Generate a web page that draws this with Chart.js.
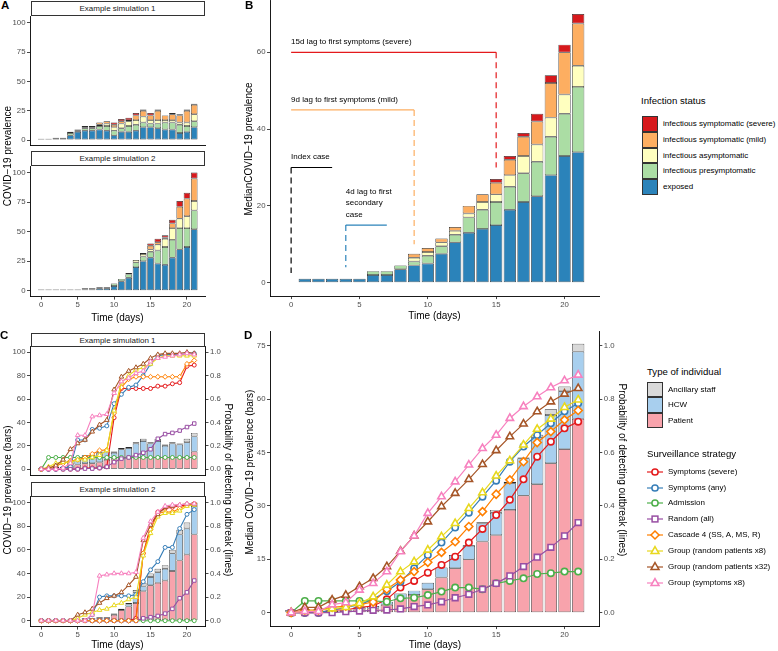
<!DOCTYPE html>
<html>
<head>
<meta charset="utf-8">
<script src="https://cdn.jsdelivr.net/npm/chart.js@4.4.1/dist/chart.umd.min.js"></script>
<style>
  body { margin: 0; width: 778px; height: 651px; background: #fff; position: relative; overflow: hidden;
         font-family: 'Liberation Sans', Arial, sans-serif; color: #000; }
  canvas { position: absolute; }
  .t { position: absolute; white-space: nowrap; line-height: 1; }
  .c { transform: translate(-50%, -50%); }
  .up { transform: translate(-50%, -50%) rotate(-90deg); }
  .down { transform: translate(-50%, -50%) rotate(90deg); }
  .title { font-size: 10px; }
  .letter { font-size: 11.5px; font-weight: bold; }
  .strip { position: absolute; box-sizing: border-box; border: 0.8px solid #333; background: #fff;
           font-size: 8px; font-weight: 400; color: #1a1a1a; text-align: center; }
  .key { position: absolute; box-sizing: border-box; border: 0.7px solid #333; }
  .lab { position: absolute; font-size: 8px; white-space: nowrap; transform: translateY(-50%); line-height: 1; }
  .ltitle { position: absolute; font-size: 9.6px; white-space: nowrap; transform: translateY(-50%); line-height: 1; }
  svg { position: absolute; }
</style>
</head>
<body>

<canvas id="a1"></canvas>
<canvas id="a2"></canvas>
<canvas id="b"></canvas>
<canvas id="c1"></canvas>
<canvas id="c2"></canvas>
<canvas id="d"></canvas>

<div class="t letter" style="left:1px;top:0px">A</div>
<div class="t letter" style="left:245px;top:0px">B</div>
<div class="t letter" style="left:0px;top:330px">C</div>
<div class="t letter" style="left:244px;top:330px">D</div>

<div class="strip" style="left:30.5px;top:1px;width:174px;height:14.5px;line-height:13px">Example simulation 1</div>
<div class="strip" style="left:30.5px;top:151px;width:174px;height:14.5px;line-height:13px">Example simulation 2</div>
<div class="strip" style="left:30.5px;top:332.5px;width:174px;height:14.5px;line-height:13px">Example simulation 1</div>
<div class="strip" style="left:30.5px;top:482px;width:174px;height:14.5px;line-height:13px">Example simulation 2</div>

<div class="t title up" style="left:8px;top:156px">COVID−19 prevalence</div>
<div class="t title c" style="left:117.5px;top:318px">Time (days)</div>
<div class="t title up" style="left:249px;top:148.5px">MedianCOVID−19 prevalence</div>
<div class="t title c" style="left:434.5px;top:316px">Time (days)</div>
<div class="t title up" style="left:8px;top:490px">COVID−19 prevalence (bars)</div>
<div class="t title down" style="left:228px;top:490px">Probability of detecting outbreak (lines)</div>
<div class="t title c" style="left:117.5px;top:645px">Time (days)</div>
<div class="t title up" style="left:250px;top:472px">Median COVID−19 prevalence (bars)</div>
<div class="t title down" style="left:621.5px;top:470px">Probability of detecting outbreak (lines)</div>
<div class="t title c" style="left:435px;top:645px">Time (days)</div>

<div id="legends"></div>

<script>
// days on the x axis and the axis tick values
const days = [0, 1, 2, 3, 4, 5, 6, 7, 8, 9, 10, 11, 12, 13, 14, 15, 16, 17, 18, 19, 20, 21];
const dayTicks = [0, 5, 10, 15, 20];
const countTicks = [0, 25, 50, 75, 100];
const medianTicks = [0, 20, 40, 60];
const prevTicks = [0, 20, 40, 60, 80, 100];
const dMedianTicks = [0, 15, 30, 45, 60, 75];
const probTicks = [0, 0.2, 0.4, 0.6, 0.8, 1.0];

// infection status (bottom of the stack first)
const statusNames = ["exposed", "infectious presymptomatic", "infectious asymptomatic",
  "infectious symptomatic (mild)", "infectious symptomatic (severe)"];
const statusColors = ["#2B83BA", "#ABDDA4", "#FFFFBF", "#FDAE61", "#D7191C"];

// panel A, example simulation 1
const exp1 = [1, 1, 1, 1, 4, 7, 8, 8, 9, 8, 4, 7, 7, 8, 11, 11, 10, 9, 9, 6, 7, 11];
const pre1 = [0, 0, 1, 1, 2, 1, 2, 2, 3, 4, 4, 3, 5, 5, 4, 3, 4, 6, 6, 7, 5, 5];
const asy1 = [0, 0, 0, 0, 1, 1, 1, 1, 1, 2, 3, 4, 4, 4, 5, 3, 3, 2, 2, 2, 3, 6];
const mil1 = [0, 0, 0, 0, 0, 0, 1, 1, 2, 2, 2, 2, 1, 4, 5, 4, 8, 4, 5, 6, 10, 8];
const sev1 = [0, 0, 0, 0, 0, 0, 0, 0, 0, 0, 2, 2, 2, 2, 1, 2, 1, 0, 1, 1, 1, 1];

// panel A, example simulation 2
const exp2 = [1, 1, 1, 1, 1, 1, 1, 1, 2, 2, 4, 8, 11, 20, 25, 28, 23, 22, 28, 35, 37, 52];
const pre2 = [0, 0, 0, 0, 0, 0, 1, 1, 1, 1, 2, 2, 3, 4, 4, 5, 11, 15, 15, 18, 16, 16];
const asy2 = [0, 0, 0, 0, 0, 0, 0, 0, 0, 0, 0, 0, 1, 2, 2, 2, 5, 7, 10, 8, 10, 8];
const mil2 = [0, 0, 0, 0, 0, 0, 0, 0, 0, 0, 0, 0, 0, 0, 1, 3, 2, 1, 4, 10, 15, 19];
const sev2 = [0, 0, 0, 0, 0, 0, 0, 0, 0, 0, 0, 0, 0, 0, 0, 2, 3, 2, 3, 5, 5, 5];

// panel B, medians
const bExp = [0, 1, 1, 1, 1, 1, 2, 2, 3.5, 4.5, 5, 7.5, 10.5, 13, 14, 15, 19, 21, 22.5, 28, 33, 34];
const bPre = [0, 0, 0, 0, 0, 0, 1, 1, 1, 1, 2, 2, 2, 4, 5, 6, 6, 7.5, 9, 10, 11, 17];
const bAsy = [0, 0, 0, 0, 0, 0, 0, 0, 0, 1, 1, 1, 1, 1, 2, 2, 3, 4.5, 4.5, 5, 5, 5.5];
const bMil = [0, 0, 0, 0, 0, 0, 0, 0, 0, 1, 1, 1, 1, 2, 2, 3, 4, 5, 6, 9, 11, 11];
const bSev = [0, 0, 0, 0, 0, 0, 0, 0, 0, 0, 0, 0, 0, 0, 0, 1, 1, 1, 2, 2, 2, 2.5];

// panel B lag annotations
const lagLabels = [["Index case"], ["4d lag to first", "secondary", "case"],
  ["9d lag to first symptoms (mild)"], ["15d lag to first symptoms (severe)"]];
const lagFrom = [0, 4, 0, 0];
const lagTo = [3, 7, 9, 15];
const lagLevel = [30, 15, 45, 60];
const lagDropAt = [0, 4, 9, 15];
const lagDropTo = [2.5, 4, 10, 30];
const lagColors = ["#000000", "#2B83BA", "#FDAE61", "#E41A1C"];

// type of individual (bottom of the stack first)
const typeNames = ["Patient", "HCW", "Ancillary staff"];
const typeColors = ["#F8A3AC", "#A8CFEE", "#D9D9D9"];

// panel C bars
const cPat1 = [1, 1, 1, 1, 3, 4, 5, 5, 6, 8, 9, 10, 10, 10, 10, 10, 10, 10, 10, 10, 10, 15];
const cHcw1 = [0, 0, 1, 1, 3, 4, 6, 6, 8, 7, 5, 7, 8, 12, 14, 12, 14, 10, 12, 11, 13, 13];
const cAnc1 = [0, 0, 0, 0, 1, 1, 1, 1, 1, 1, 1, 1, 1, 1, 2, 1, 2, 1, 1, 1, 3, 3];
const cPat2 = [1, 1, 1, 1, 1, 1, 1, 1, 1, 1, 5, 9, 12, 15, 25, 30, 32, 34, 42, 51, 56, 73];
const cHcw2 = [0, 0, 0, 0, 0, 0, 1, 1, 1, 1, 1, 1, 2, 9, 4, 7, 9, 10, 15, 22, 22, 24];
const cAnc2 = [0, 0, 0, 0, 0, 0, 0, 0, 1, 1, 0, 0, 1, 2, 3, 3, 3, 3, 3, 4, 5, 3];

// panel D bars (medians)
const dPat = [0.3, 0.3, 0.5, 0.5, 0.6, 1, 1.2, 2.2, 4, 5, 6.6, 9.9, 12.5, 15, 20, 21.8, 28.9, 32.9, 36.1, 42, 46, 54.5];
const dHcw = [0.4, 0, 0, 0.1, 0.2, 0.5, 0.7, 0.9, 1.4, 1.2, 1.8, 2.8, 3.7, 3.8, 5.1, 6.3, 7.5, 10.5, 13.2, 13.6, 16.3, 18.9];
const dAnc = [0, 0, 0, 0, 0, 0, 0, 0, 0, 0, 0, 0, 0, 0.2, 0.3, 0.8, 0.4, 0.2, 0.7, 1.6, 1.3, 2.2];

// surveillance strategies
const stratNames = ["Symptoms (severe)", "Symptoms (any)", "Admission", "Random (all)",
  "Cascade 4 (SS, A, MS, R)", "Group (random patients x8)", "Group (random patients x32)", "Group (symptoms x8)"];
const stratColors = ["#E41A1C", "#377EB8", "#4DAF4A", "#984EA3", "#FF7F00", "#E8D81E", "#A65628", "#F781BF"];
const stratShapes = ["circle", "circle", "circle", "rect", "rectRot", "triangle", "triangle", "triangle"];

// probability of detecting the outbreak, simulation 1 (panel C top)
const c1Lines = [
  [0, 0, 0, 0, 0, 0, 0.01, 0.01, 0.01, 0.02, 0.44, 0.69, 0.69, 0.69, 0.69, 0.69, 0.71, 0.71, 0.73, 0.74, 0.88, 0.89],
  [0, 0, 0, 0.01, 0.02, 0.25, 0.25, 0.34, 0.35, 0.37, 0.56, 0.64, 0.70, 0.72, 0.80, 0.90, 0.97, 0.98, 0.98, 0.98, 0.99, 0.99],
  [0, 0.1, 0.1, 0.1, 0.1, 0.1, 0.1, 0.1, 0.1, 0.1, 0.1, 0.1, 0.1, 0.1, 0.1, 0.1, 0.1, 0.1, 0.1, 0.1, 0.1, 0.1],
  [0, 0, 0, 0, 0, 0, 0.005, 0.005, 0.01, 0.02, 0.06, 0.09, 0.1, 0.12, 0.14, 0.17, 0.26, 0.3, 0.31, 0.33, 0.36, 0.39],
  [0, 0.005, 0.03, 0.05, 0.07, 0.08, 0.1, 0.13, 0.16, 0.165, 0.48, 0.70, 0.77, 0.79, 0.79, 0.79, 0.79, 0.79, 0.79, 0.79, 0.90, 0.93],
  [0, 0.02, 0.05, 0.06, 0.06, 0.08, 0.08, 0.1, 0.12, 0.16, 0.5, 0.74, 0.8, 0.85, 0.87, 0.9, 0.95, 0.97, 0.97, 0.97, 0.97, 0.97],
  [0, 0.01, 0.03, 0.08, 0.17, 0.22, 0.25, 0.32, 0.38, 0.42, 0.68, 0.79, 0.84, 0.87, 0.9, 0.95, 0.98, 0.99, 0.99, 0.99, 1.0, 0.99],
  [0, 0, 0, 0.01, 0.05, 0.29, 0.29, 0.45, 0.46, 0.47, 0.65, 0.75, 0.78, 0.82, 0.84, 0.92, 0.95, 0.96, 0.97, 0.98, 0.99, 0.98]
];

// simulation 2 (panel C bottom)
const c2Lines = [
  [0, 0, 0, 0, 0, 0, 0, 0, 0, 0, 0, 0, 0, 0.02, 0.57, 0.8, 0.92, 0.95, 0.96, 0.97, 0.98, 0.99],
  [0, 0, 0, 0, 0, 0, 0, 0.05, 0.2, 0.21, 0.21, 0.21, 0.21, 0.22, 0.33, 0.43, 0.5, 0.62, 0.62, 0.78, 0.9, 0.94],
  [0, 0, 0, 0, 0, 0, 0, 0, 0, 0, 0, 0, 0, 0, 0, 0, 0, 0, 0, 0, 0, 0],
  [0, 0, 0, 0, 0, 0, 0, 0, 0, 0, 0, 0, 0, 0, 0.02, 0.03, 0.04, 0.06, 0.1, 0.19, 0.24, 0.34],
  [0, 0, 0, 0, 0, 0, 0, 0, 0, 0, 0, 0, 0, 0, 0.57, 0.77, 0.91, 0.92, 0.92, 0.95, 0.98, 0.99],
  [0, 0, 0, 0, 0, 0.02, 0.05, 0.07, 0.09, 0.1, 0.13, 0.15, 0.18, 0.2, 0.55, 0.74, 0.88, 0.91, 0.91, 0.93, 0.97, 0.98],
  [0, 0, 0, 0, 0, 0.05, 0.07, 0.1, 0.15, 0.19, 0.21, 0.24, 0.3, 0.37, 0.68, 0.81, 0.9, 0.96, 0.97, 0.98, 0.99, 0.99],
  [0, 0, 0, 0, 0, 0, 0, 0.05, 0.38, 0.39, 0.4, 0.4, 0.4, 0.41, 0.7, 0.84, 0.92, 0.97, 0.98, 0.98, 0.99, 0.99]
];

// medians across simulations (panel D)
const dLines = [
  [0, 0, 0, 0.01, 0.01, 0.02, 0.025, 0.05, 0.094, 0.119, 0.15, 0.179, 0.21, 0.263, 0.314, 0.366, 0.423, 0.5, 0.585, 0.641, 0.691, 0.716],
  [0, 0, 0, 0.01, 0.02, 0.03, 0.05, 0.08, 0.116, 0.166, 0.216, 0.263, 0.319, 0.375, 0.435, 0.495, 0.566, 0.623, 0.666, 0.71, 0.755, 0.785],
  [0, 0.044, 0.044, 0.044, 0.044, 0.044, 0.044, 0.041, 0.054, 0.056, 0.066, 0.079, 0.094, 0.094, 0.088, 0.11, 0.119, 0.129, 0.145, 0.148, 0.154, 0.154],
  [0, 0, 0, 0, 0.004, 0.006, 0.009, 0.01, 0.014, 0.023, 0.029, 0.041, 0.056, 0.069, 0.088, 0.11, 0.138, 0.173, 0.208, 0.245, 0.288, 0.338],
  [0, 0.01, 0.01, 0.02, 0.025, 0.03, 0.04, 0.088, 0.123, 0.154, 0.189, 0.226, 0.266, 0.323, 0.379, 0.444, 0.498, 0.566, 0.638, 0.679, 0.723, 0.758],
  [0, 0.005, 0.01, 0.015, 0.02, 0.035, 0.06, 0.104, 0.154, 0.191, 0.235, 0.285, 0.335, 0.391, 0.45, 0.513, 0.57, 0.629, 0.688, 0.726, 0.77, 0.798],
  [0, 0.02, 0.02, 0.048, 0.066, 0.098, 0.129, 0.173, 0.231, 0.288, 0.341, 0.398, 0.448, 0.5, 0.556, 0.608, 0.66, 0.708, 0.754, 0.791, 0.82, 0.841],
  [0, 0.005, 0.005, 0.03, 0.038, 0.085, 0.11, 0.154, 0.229, 0.288, 0.373, 0.435, 0.491, 0.554, 0.616, 0.666, 0.729, 0.773, 0.81, 0.844, 0.87, 0.891]
];

Chart.defaults.font.family = "'Liberation Sans', Arial, sans-serif";
Chart.defaults.font.size = 7.8;
Chart.defaults.color = "#4d4d4d";

// x range like ggplot: bars of width 0.9 plus 5% expansion
const span = days[days.length - 1] - days[0] + 0.9;
const xMin = days[0] - 0.45 - 0.05 * span;
const xMax = days[days.length - 1] + 0.45 + 0.05 * span;

function place(id, cv) {
  const c = document.getElementById(id);
  c.width = cv[2];
  c.height = cv[3];
  c.style.left = cv[0] + "px";
  c.style.top = cv[1] + "px";
  c.style.width = cv[2] + "px";
  c.style.height = cv[3] + "px";
  return c.getContext("2d");
}

// fix the room an axis takes, so the plot area lands where we want it
function fixSize(size) {
  return function (s) {
    if (s.isHorizontal()) s.height = size; else s.width = size;
    s.paddingLeft = 0; s.paddingRight = 0; s.paddingTop = 0; s.paddingBottom = 0;
  };
}

function xAxis(showLabels, size) {
  return {
    type: "linear", min: xMin, max: xMax, offset: false, stacked: true,
    afterBuildTicks: (s) => { s.ticks = dayTicks.map((v) => ({ value: v })); },
    afterFit: fixSize(size),
    grid: { display: true, drawOnChartArea: false, drawTicks: showLabels, tickLength: 3, tickColor: "#333", tickWidth: 0.9, offset: false },
    border: { display: true, color: "#000", width: 0.9 },
    ticks: { display: showLabels, padding: 1, maxRotation: 0, autoSkip: false }
  };
}

function yAxis(min, max, ticks, size, side, fmt, stacked) {
  return {
    type: "linear", position: side, min: min, max: max, stacked: stacked,
    afterBuildTicks: (s) => { s.ticks = ticks.map((v) => ({ value: v })); },
    afterFit: fixSize(size),
    grid: { display: true, drawOnChartArea: false, tickLength: 3, tickColor: "#333", tickWidth: 0.9 },
    border: { display: true, color: "#000", width: 0.9 },
    ticks: { padding: 1.5, callback: fmt, autoSkip: false }
  };
}

function bars(name, values, color) {
  return {
    type: "bar", label: name, yAxisID: "y", order: 20,
    data: values.map((v, i) => ({ x: days[i], y: v })),
    backgroundColor: color, borderColor: "#2b2b2b", borderWidth: 0.7, borderSkipped: false,
    barPercentage: 0.9, categoryPercentage: 1
  };
}

function lines(series, big) {
  const k = big ? 1 : 0.62;
  const radius = { circle: 3.2, rect: 4, rectRot: 4, triangle: 4.3 };
  return series.map((vals, j) => ({
    type: "line", label: stratNames[j], yAxisID: "y2", order: 8 - j,
    data: vals.map((v, i) => ({ x: days[i], y: v })),
    borderColor: stratColors[j], borderWidth: big ? 1.2 : 1.1,
    pointStyle: stratShapes[j], pointRadius: radius[stratShapes[j]] * k,
    pointBorderWidth: big ? 1.6 : 1, pointBorderColor: stratColors[j], pointBackgroundColor: "#fff",
    tension: 0
  }));
}

function build(id, cv, plot, o) {
  const ctx = place(id, cv);
  const left = plot[0] - cv[0], top = plot[1] - cv[1];
  const right = cv[0] + cv[2] - plot[2], bottom = cv[1] + cv[3] - plot[3];
  const scales = {
    x: xAxis(o.xLabels, bottom),
    y: yAxis(o.yMin, o.yMax, o.yTicks, left, "left", (v) => String(v), true)
  };
  if (o.y2) {
    scales.y2 = yAxis(o.yMin / o.y2, o.yMax / o.y2, probTicks, right, "right", (v) => v.toFixed(1), false);
  }
  if (o.extraAxis) scales.ya = { type: "linear", min: o.yMin, max: o.yMax, display: false, stacked: false };
  return new Chart(ctx, {
    type: "bar",
    data: { datasets: o.datasets },
    options: {
      responsive: false, animation: false, events: [],
      layout: { padding: { left: 0, top: top, right: o.y2 ? 0 : right, bottom: 0 } },
      plugins: { legend: { display: false }, tooltip: { enabled: false } },
      scales: scales
    },
    plugins: o.plugins || []
  });
}

// panel A
const statusSim1 = [exp1, pre1, asy1, mil1, sev1];
const statusSim2 = [exp2, pre2, asy2, mil2, sev2];
build("a1", [0, 14, 210, 134], [30, 16.9, 205.5, 145.9], {
  xLabels: false, yMin: -5, yMax: 105, yTicks: countTicks,
  datasets: statusSim1.map((v, i) => bars(statusNames[i], v, statusColors[i]))
});
build("a2", [0, 164, 210, 148], [30, 166.7, 205.5, 296.6], {
  xLabels: true, yMin: -5, yMax: 105, yTicks: countTicks,
  datasets: statusSim2.map((v, i) => bars(statusNames[i], v, statusColors[i]))
});

// panel B, with the lag annotations
const lagSets = [];
lagLevel.forEach((lvl, k) => {
  lagSets.push({
    type: "line", yAxisID: "ya", order: 1, data: [{ x: lagFrom[k], y: lvl }, { x: lagTo[k], y: lvl }],
    borderColor: lagColors[k], borderWidth: 1.2, pointRadius: 0
  });
  lagSets.push({
    type: "line", yAxisID: "ya", order: 1, data: [{ x: lagDropAt[k], y: lvl }, { x: lagDropAt[k], y: lagDropTo[k] }],
    borderColor: lagColors[k], borderWidth: 1.2, borderDash: [6, 4], pointRadius: 0
  });
});
const lagText = {
  id: "lagText",
  afterDatasetsDraw(chart) {
    const { ctx, scales: { x, y } } = chart;
    ctx.save();
    ctx.font = "8px 'Liberation Sans', Arial, sans-serif";
    ctx.fillStyle = "#000";
    ctx.textBaseline = "middle";
    lagLabels.forEach((rows, k) => {
      rows.forEach((txt, i) => {
        ctx.fillText(txt, x.getPixelForValue(lagFrom[k]), y.getPixelForValue(lagLevel[k]) - 10.5 - 11.5 * (rows.length - 1 - i));
      });
    });
    ctx.restore();
  }
};
const statusB = [bExp, bPre, bAsy, bMil, bSev];
build("b", [230, 0, 375, 315], [270, 0.5, 599.3, 296.1], {
  xLabels: true, yMin: -3.5, yMax: 73.5, yTicks: medianTicks, extraAxis: true,
  datasets: statusB.map((v, i) => bars(statusNames[i], v, statusColors[i])).concat(lagSets),
  plugins: [lagText]
});

// panel C
const typeSim1 = [cPat1, cHcw1, cAnc1];
const typeSim2 = [cPat2, cHcw2, cAnc2];
build("c1", [0, 340, 235, 140], [30, 346.4, 205.5, 476.6], {
  xLabels: false, yMin: -5, yMax: 105, yTicks: prevTicks, y2: 100,
  datasets: typeSim1.map((v, i) => bars(typeNames[i], v, typeColors[i])).concat(lines(c1Lines, false))
});
build("c2", [0, 490, 235, 152], [30, 496.6, 205.5, 626.6], {
  xLabels: true, yMin: -5, yMax: 105, yTicks: prevTicks, y2: 100,
  datasets: typeSim2.map((v, i) => bars(typeNames[i], v, typeColors[i])).concat(lines(c2Lines, false))
});

// panel D
const typeD = [dPat, dHcw, dAnc];
build("d", [230, 325, 390, 318], [270, 331.1, 599.3, 626.1], {
  xLabels: true, yMin: -3.77, yMax: 79.17, yTicks: dMedianTicks, y2: 75,
  datasets: typeD.map((v, i) => bars(typeNames[i], v, typeColors[i])).concat(lines(dLines, true))
});

// legends
const leg = document.getElementById("legends");
function add(html) { leg.insertAdjacentHTML("beforeend", html); }

add('<div class="ltitle" style="left:641px;top:101px">Infection status</div>');
for (let i = 0; i < statusNames.length; i++) {
  const j = statusNames.length - 1 - i;
  const top = 116 + 15.8 * i;
  add('<div class="key" style="left:642px;top:' + top + 'px;width:16px;height:15.8px;background:' + statusColors[j] + '"></div>');
  add('<div class="lab" style="left:663px;top:' + (top + 7.9) + 'px">' + statusNames[j] + '</div>');
}

add('<div class="ltitle" style="left:647px;top:371.7px">Type of individual</div>');
for (let i = 0; i < typeNames.length; i++) {
  const j = typeNames.length - 1 - i;
  const top = 381.7 + 15.6 * i;
  add('<div class="key" style="left:647px;top:' + top + 'px;width:16px;height:15.6px;background:' + typeColors[j] + '"></div>');
  add('<div class="lab" style="left:668px;top:' + (top + 7.8) + 'px">' + typeNames[j] + '</div>');
}

function marker(shape, color) {
  const st = 'fill="#fff" stroke="' + color + '" stroke-width="1.5"';
  if (shape === "circle") return '<circle cx="8" cy="8" r="3.1" ' + st + '/>';
  if (shape === "rect") return '<rect x="5.1" y="5.1" width="5.8" height="5.8" ' + st + '/>';
  if (shape === "rectRot") return '<polygon points="8,4 12,8 8,12 4,8" ' + st + '/>';
  return '<polygon points="8,3.6 12,10.6 4,10.6" ' + st + '/>';
}
add('<div class="ltitle" style="left:647px;top:454.3px">Surveillance strategy</div>');
for (let i = 0; i < stratNames.length; i++) {
  const cy = 471.7 + 15.85 * i;
  add('<svg width="16" height="16" style="left:647px;top:' + (cy - 8) + 'px">' +
      '<line x1="0" y1="8" x2="16" y2="8" stroke="' + stratColors[i] + '" stroke-width="1.2"/>' +
      marker(stratShapes[i], stratColors[i]) + '</svg>');
  add('<div class="lab" style="left:668px;top:' + cy + 'px">' + stratNames[i] + '</div>');
}
</script>
</body>
</html>
